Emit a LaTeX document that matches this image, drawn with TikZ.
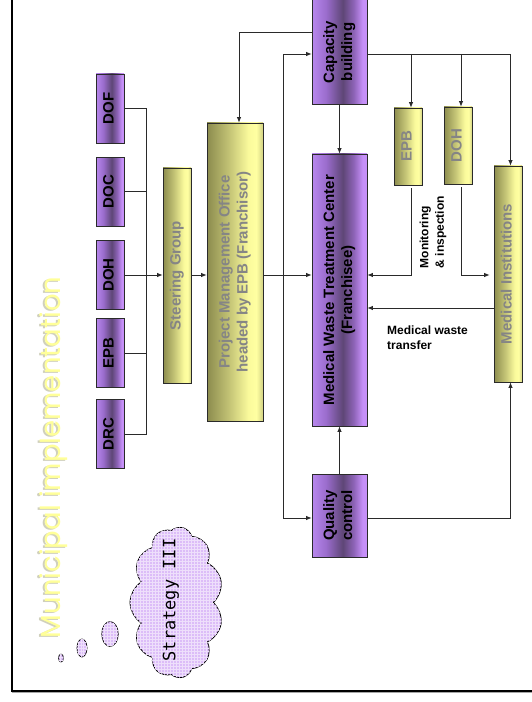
\documentclass[tikz,border=0pt]{standalone}
\usepackage{fontspec}
\setmainfont{Liberation Sans}
\newfontfamily\titlefont{Poppins}
\newfontfamily\cloudfont{DejaVu Sans Mono}
\usetikzlibrary{arrows.meta,shapes.symbols,shapes.geometric,patterns}

\definecolor{pA}{HTML}{B888EE}
\definecolor{pB}{HTML}{9A6CCC}
\definecolor{pC}{HTML}{5E4676}
\definecolor{pD}{HTML}{8E64B8}
\definecolor{pE}{HTML}{C690F8}
\definecolor{yA}{HTML}{8C8C4E}
\definecolor{yB}{HTML}{C4C476}
\definecolor{yC}{HTML}{FAFA9C}
\definecolor{yD}{HTML}{FFFFA2}
\definecolor{yE}{HTML}{D2D284}
\definecolor{ytext}{HTML}{858585}
\definecolor{titleyel}{HTML}{FFFF99}
\definecolor{titleshadow}{HTML}{D0D0BC}
\definecolor{cloudfill}{HTML}{DCBDF8}
\definecolor{cloudgrid}{HTML}{EEDFFB}
\definecolor{linecol}{HTML}{2A2A2A}

\pgfdeclarehorizontalshading{purpshade}{100bp}{color(0bp)=(pA); color(25bp)=(pA); color(38bp)=(pB); color(53bp)=(pC); color(63bp)=(pD); color(71bp)=(pE); color(100bp)=(pE)}
\pgfdeclarehorizontalshading{yelshade}{100bp}{color(0bp)=(yA); color(25bp)=(yA); color(45bp)=(yB); color(62bp)=(yC); color(69bp)=(yD); color(75bp)=(yE); color(100bp)=(yE)}

\newcommand{\rottext}[1]{\rotatebox{90}{\begin{tabular}{@{}c@{}}#1\end{tabular}}}

\tikzset{
  boxbase/.style={rectangle, draw=linecol, line width=0.8bp, inner sep=0pt,
    font=\bfseries\fontsize{15bp}{18bp}\selectfont},
  purpbox/.style={boxbase, shading=purpshade, text=black},
  yelbox/.style={boxbase, shading=yelshade, text=ytext},
  conn/.style={draw=linecol, line width=0.8bp},
  arr/.style={conn, -{Latex[length=5.5bp,width=4.5bp]}},
  lbl/.style={inner sep=0pt, text=black, font=\bfseries\fontsize{12bp}{15.5bp}\selectfont},
  bub/.style={ellipse, draw=black, line width=0.7bp, fill=cloudfill,
    postaction={pattern=grid, pattern color=cloudgrid}, inner sep=0pt},
  titlestyle/.style={rotate=90, anchor=base, inner sep=0pt,
    font=\titlefont\fontsize{27.5bp}{30bp}\selectfont},
}

\begin{document}
\begin{tikzpicture}[x=1bp,y=-1bp]
\useasboundingbox (0,0) rectangle (532,702);
\fill[white] (0,0) rectangle (532,702);

% frame
\draw[black!35, line width=1.2bp] (11.5,692.8) -- (532,692.8);
\draw[black, line width=2bp] (11.5,0) -- (11.5,690.8) -- (532,690.8);

% title
\node[titlestyle, text=titleshadow] (titleS) at (58.5,458.5) {Municipal implementation};
\node[titlestyle, text=titleyel] (title) at (60,457.5) {Municipal implementation};

% left column
\node[purpbox, minimum width=28bp, minimum height=69bp] (DOF) at (110,108.5) {\rottext{DOF}};
\node[purpbox, minimum width=28bp, minimum height=69bp] (DOC) at (110,191.5) {\rottext{DOC}};
\node[purpbox, minimum width=28bp, minimum height=69bp] (DOH) at (110,275) {\rottext{DOH}};
\node[purpbox, minimum width=28bp, minimum height=69bp] (EPB) at (110,353) {\rottext{EPB}};
\node[purpbox, minimum width=28bp, minimum height=69bp] (DRC) at (110,434) {\rottext{DRC}};

\node[yelbox, minimum width=28bp, minimum height=215bp] (SG) at (177,275.5) {\rottext{Steering Group}};
\node[yelbox, minimum width=56bp, minimum height=298bp] (PMO) at (235,272) {\rottext{Project Management Office\\headed by EPB (Franchisor)}};

\node[purpbox, minimum width=55bp, minimum height=105bp] (CAP) at (339.5,52) {\rottext{Capacity\\building}};
\node[purpbox, minimum width=55bp, minimum height=272bp] (MWTC) at (339.5,290) {\rottext{Medical Waste Treatment Center\\(Franchisee)}};
\node[purpbox, minimum width=55bp, minimum height=83bp] (QC) at (339.5,515.5) {\rottext{Quality\\control}};

\node[yelbox, minimum width=28bp, minimum height=77bp] (EPB2) at (408,146.5) {\rottext{EPB}};
\node[yelbox, minimum width=28bp, minimum height=77bp] (DOH2) at (458,145.5) {\rottext{DOH}};
\node[yelbox, minimum width=28bp, minimum height=216bp] (MI) at (508,274) {\rottext{Medical Institutions}};

% labels
\node[lbl, rotate=90, align=left] (mon) at (433,232) {Monitoring\\\& inspection};
\node[lbl, align=left, anchor=north west] (mwt) at (387,325.5) {Medical waste\\transfer};

% cloud
\node[cloud, cloud puffs=11, cloud puff arc=115, aspect=1.6, rotate=90,
  minimum width=151bp, minimum height=93bp, inner sep=0pt,
  draw=black, line width=0.8bp, fill=cloudfill,
  postaction={pattern=grid, pattern color=cloudgrid}] (cloud) at (176.5,602.5) {};
\node[rotate=90, inner sep=0pt, text=black,
  font=\cloudfont\fontsize{17bp}{19bp}\selectfont] (cloudtxt) at (171,600) {Strategy III};
\node[bub, minimum width=16.5bp, minimum height=25bp] (bubA) at (110,634) {};
\node[bub, minimum width=10bp, minimum height=18bp] (bubB) at (82,648) {};
\node[bub, minimum width=5bp, minimum height=8bp] (bubC) at (61,658) {};

% coordinates
\coordinate (J) at (283,275);
\coordinate (capW) at ([yshift=-2bp]CAP.west);
\coordinate (capWt) at ([yshift=20bp]CAP.west);
\coordinate (pmoN) at ([xshift=4bp]PMO.north);
\coordinate (capE) at ([yshift=-2bp]CAP.east);
\coordinate (e2n) at ([xshift=3bp]EPB2.north);
\coordinate (d2n) at ([xshift=3bp]DOH2.north);
\coordinate (e2s) at ([xshift=3bp,yshift=-3bp]EPB2.south);
\coordinate (d2s) at ([xshift=3bp,yshift=-3bp]DOH2.south);
\coordinate (miN) at ([xshift=2.5bp]MI.north);
\coordinate (miS) at ([xshift=2.5bp]MI.south);
\coordinate (miW) at ([xshift=-4bp]MI.west);
\coordinate (miT) at ([yshift=-34bp]MI.west);
\coordinate (qcE) at ([yshift=-2.5bp]QC.east);
\coordinate (qcW) at ([yshift=-2.5bp]QC.west);

% bus
\draw[conn] (DOF.east) -- ++(22,0) coordinate (bus) -- (bus |- DRC.east) -- (DRC.east);
\draw[conn] (DOC.east) -- (bus |- DOC.east);
\draw[conn] (EPB.east) -- (bus |- EPB.east);
\draw[arr] (DOH.east) -- (SG.west |- DOH.east);

% main
\draw[arr] (SG.east |- J) -- (PMO.west |- J);
\draw[arr] (PMO.east |- J) -- (MWTC.west |- J);
\draw[arr] (J) |- (capW);
\draw[arr] (J) |- (qcW);
\draw[arr] (capWt) -| (pmoN);
\draw[arr] (CAP.south) -- (MWTC.north);
\draw[arr] (capE) -| (miN);
\draw[arr] (e2n |- capE) -- (e2n);
\draw[arr] (d2n |- capE) -- (d2n);
\draw[arr] (e2s) |- (MWTC.east |- J);
\draw[arr] (d2s) |- (miW |- J);
\draw[arr] (miT) -- (MWTC.east |- miT);
\draw[arr] (QC.north) -- (MWTC.south);
\draw[arr] (qcE) -| (miS);
\end{tikzpicture}
\end{document}
